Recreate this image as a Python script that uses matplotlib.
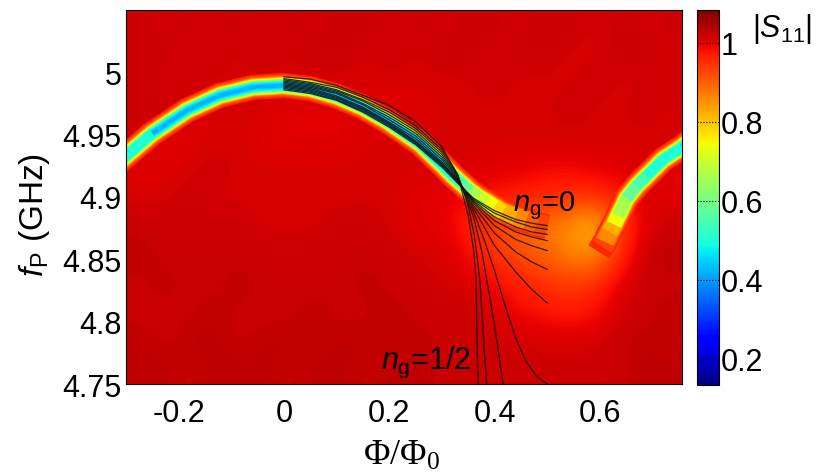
import numpy as np
import matplotlib
matplotlib.use("Agg")
import matplotlib.pyplot as plt
from matplotlib.colors import Normalize

plt.rcParams['font.family'] = ['Liberation Sans', 'DejaVu Sans']
plt.rcParams['mathtext.fontset'] = 'custom'
plt.rcParams['mathtext.rm'] = 'Liberation Sans'
plt.rcParams['mathtext.it'] = 'Liberation Sans:italic'
plt.rcParams['mathtext.cal'] = 'Liberation Serif'

# background |S11|, rows go from 4.75 up to 5.05 GHz, columns -0.3 to 0.756
background = [
    [1.03, 1.03, 1.02, 1.03, 1.03, 1.03, 1.02, 1.03, 1.03, 1.02, 1.03, 1.03, 1.02, 1.02, 1.02, 1.02, 1.02, 1.02, 1.02, 1.02, 1.03, 1.03],
    [1.03, 1.02, 1.03, 1.03, 1.02, 1.03, 1.03, 1.02, 1.03, 1.03, 1.02, 1.03, 1.02, 1.02, 1.02, 1.01, 1.01, 1.01, 1.01, 1.02, 1.03, 1.02],
    [1.02, 1.02, 1.02, 1.03, 1.02, 1.02, 1.02, 1.03, 1.02, 1.02, 1.03, 1.02, 1.02, 1.02, 1.01, 0.99, 0.98, 0.97, 0.98, 1.01, 1.02, 1.03],
    [1.02, 1.03, 1.02, 1.02, 1.03, 1.02, 1.02, 1.02, 1.02, 1.03, 1.02, 1.02, 1.01, 1.01, 0.99, 0.97, 0.95, 0.94, 0.95, 1.00, 1.02, 1.02],
    [1.03, 1.02, 1.02, 1.02, 1.02, 1.02, 1.02, 1.02, 1.02, 1.02, 1.02, 1.01, 1.01, 0.99, 0.95, 0.92, 0.90, 0.87, 0.85, 0.95, 1.02, 1.03],
    [1.02, 1.02, 1.02, 1.02, 1.02, 1.01, 1.01, 1.01, 1.02, 1.02, 1.01, 1.00, 1.00, 0.97, 0.93, 0.90, 0.88, 0.85, 0.80, 0.93, 1.00, 1.02],
    [1.01, 1.01, 1.02, 1.01, 1.01, 1.01, 1.01, 1.01, 1.01, 1.01, 1.01, 1.00, 1.00, 0.99, 0.98, 0.97, 0.96, 0.95, 0.95, 0.97, 1.01, 1.00],
    [1.00, 1.00, 1.01, 1.02, 1.01, 1.01, 1.01, 1.01, 1.01, 1.01, 1.01, 1.01, 1.01, 1.01, 1.00, 1.00, 0.99, 0.99, 1.00, 1.00, 1.01, 1.00],
    [1.01, 1.00, 1.00, 1.01, 1.01, 1.00, 1.00, 1.00, 1.00, 1.01, 1.01, 1.01, 1.01, 1.01, 1.01, 1.01, 1.01, 1.01, 1.01, 1.01, 1.01, 1.01],
    [1.02, 1.02, 1.01, 1.01, 1.01, 1.01, 1.00, 1.00, 1.00, 1.00, 1.00, 1.00, 1.01, 1.01, 1.01, 1.01, 1.01, 1.02, 1.01, 1.01, 1.02, 1.01],
    [1.02, 1.01, 1.02, 1.01, 1.01, 1.01, 1.01, 1.01, 1.01, 1.01, 1.01, 1.01, 1.01, 1.01, 1.02, 1.01, 1.01, 1.01, 1.02, 1.01, 1.01, 1.02],
    [1.02, 1.02, 1.01, 1.02, 1.01, 1.02, 1.01, 1.02, 1.02, 1.01, 1.02, 1.01, 1.02, 1.02, 1.01, 1.02, 1.02, 1.01, 1.01, 1.02, 1.02, 1.01],
    [1.02, 1.01, 1.02, 1.01, 1.02, 1.01, 1.02, 1.01, 1.02, 1.02, 1.01, 1.02, 1.01, 1.02, 1.02, 1.01, 1.02, 1.02, 1.01, 1.02, 1.01, 1.02],
]

# resonance dip: position and depth along the flux axis, runs a little past both axis ends
ridge_phi = [-0.33, -0.30, -0.25, -0.184, -0.122, -0.059, 0.0, 0.05, 0.1, 0.15, 0.196, 0.258, 0.30, 0.321, 0.337, 0.353, 0.369, 0.385, 0.40, 0.416, 0.44, 0.46, 0.48, 0.5, 0.54, 0.58, 0.598, 0.604, 0.61, 0.619, 0.627, 0.635, 0.651, 0.67, 0.689, 0.72, 0.756, 0.78]
ridge_f = [4.922, 4.933, 4.951, 4.9695, 4.9815, 4.988, 4.9895, 4.987, 4.981, 4.972, 4.961, 4.943, 4.926, 4.917, 4.911, 4.905, 4.900, 4.896, 4.892, 4.888, 4.884, 4.881, 4.878, 4.876, 4.871, 4.866, 4.856, 4.860, 4.864, 4.872, 4.878, 4.885, 4.899, 4.909, 4.917, 4.930, 4.94, 4.948]
ridge_depth = [0.52, 0.50, 0.41, 0.40, 0.40, 0.39, 0.38, 0.37, 0.37, 0.38, 0.39, 0.41, 0.44, 0.47, 0.52, 0.57, 0.63, 0.69, 0.73, 0.77, 0.81, 0.84, 0.88, 0.91, 0.97, 1.0, 0.95, 0.91, 0.86, 0.79, 0.71, 0.64, 0.56, 0.52, 0.49, 0.47, 0.45, 0.45]

# dip colour bands, outer to inner
band_level = [0.96, 0.93, 0.90, 0.86, 0.82, 0.78, 0.74, 0.70, 0.66, 0.62, 0.58, 0.54, 0.50, 0.46, 0.42]
band_width = [25, 22, 20, 18, 17, 16, 15, 14, 13, 12, 11, 10, 9, 7, 4]

# fitted curves, n_g = 0 ... 1/2
fit_phi = [0.0, 0.05, 0.1, 0.15, 0.2, 0.25, 0.3, 0.33, 0.36, 0.4, 0.44, 0.47, 0.5]
fit_0 = [4.986, 4.983, 4.9775, 4.968, 4.956, 4.942, 4.924, 4.911, 4.899, 4.889, 4.882, 4.879, 4.877]
fit_1 = [4.987, 4.984, 4.978, 4.969, 4.957, 4.943, 4.925, 4.912, 4.898, 4.887, 4.880, 4.876, 4.874]
fit_2 = [4.988, 4.985, 4.979, 4.970, 4.958, 4.944, 4.926, 4.912, 4.897, 4.884, 4.876, 4.872, 4.870]
fit_3 = [4.989, 4.986, 4.980, 4.971, 4.959, 4.945, 4.927, 4.913, 4.896, 4.881, 4.872, 4.868, 4.865]
fit_4 = [4.990, 4.987, 4.981, 4.972, 4.960, 4.947, 4.928, 4.913, 4.895, 4.877, 4.866, 4.861, 4.857]
fit_5 = [4.991, 4.988, 4.983, 4.974, 4.962, 4.949, 4.930, 4.914, 4.893, 4.871, 4.856, 4.848, 4.842]
fit_6 = [4.992, 4.989, 4.984, 4.975, 4.964, 4.951, 4.932, 4.915, 4.891, 4.861, 4.840, 4.826, 4.815]

steep_phi_7 = [0.0, 0.05, 0.1, 0.15, 0.2, 0.25, 0.3, 0.33, 0.36, 0.38, 0.4, 0.42, 0.44, 0.46, 0.48, 0.5]
steep_7 = [4.993, 4.990, 4.985, 4.977, 4.966, 4.953, 4.934, 4.916, 4.888, 4.866, 4.841, 4.813, 4.787, 4.768, 4.756, 4.750]
steep_phi_8 = [0.0, 0.05, 0.1, 0.15, 0.2, 0.25, 0.3, 0.33, 0.36, 0.375, 0.385, 0.396, 0.406, 0.416]
steep_8 = [4.994, 4.991, 4.986, 4.978, 4.968, 4.955, 4.936, 4.917, 4.884, 4.858, 4.834, 4.807, 4.780, 4.750]
steep_phi_9 = [0.0, 0.05, 0.1, 0.15, 0.2, 0.25, 0.3, 0.33, 0.35, 0.362, 0.372, 0.38, 0.385]
steep_9 = [4.995, 4.992, 4.988, 4.980, 4.970, 4.957, 4.938, 4.918, 4.893, 4.868, 4.834, 4.780, 4.750]
steep_phi_10 = [0.0, 0.05, 0.1, 0.15, 0.2, 0.25, 0.3, 0.33, 0.35, 0.36, 0.365, 0.367, 0.369]
steep_10 = [4.9965, 4.9945, 4.9895, 4.9815, 4.9735, 4.9605, 4.940, 4.918, 4.885, 4.858, 4.834, 4.780, 4.750]

xticks = [-0.2, 0, 0.2, 0.4, 0.6]
xtick_labels = ['-0.2', '0', '0.2', '0.4', '0.6']
yticks = [4.75, 4.8, 4.85, 4.9, 4.95, 5]
ytick_labels = ['4.75', '4.8', '4.85', '4.9', '4.95', '5']
cbar_ticks = [0.2, 0.4, 0.6, 0.8, 1]
cbar_labels = ['0.2', '0.4', '0.6', '0.8', '1']

W, H = 817, 477
fig = plt.figure(figsize=(W / 100, H / 100), dpi=100)
ax = fig.add_axes([126 / W, 1 - 385 / H, 556 / W, 374 / H])
cax = fig.add_axes([697 / W, 1 - 386 / H, 22 / W, 375 / H])

norm = Normalize(0.134, 1.083)
cmap = plt.get_cmap('jet')

im = ax.imshow(background, origin='lower', extent=[-0.30, 0.756, 4.75, 5.05], aspect='auto',
               cmap=cmap, norm=norm, interpolation='bicubic')

# dip drawn as nested bands, each band only where the dip reaches its level
depth = np.array(ridge_depth)
for level, width in zip(band_level, band_width):
    band_f = np.where(depth <= level, ridge_f, np.nan)
    ax.plot(ridge_phi, band_f, color=cmap(norm(level)), lw=width * 0.72,
            solid_capstyle='butt', solid_joinstyle='round')

for f in [fit_0, fit_1, fit_2, fit_3, fit_4, fit_5, fit_6]:
    ax.plot(fit_phi, f, color='#101010', lw=0.9, alpha=0.85)
ax.plot(steep_phi_7, steep_7, color='#101010', lw=0.9, alpha=0.85)
ax.plot(steep_phi_8, steep_8, color='#101010', lw=0.9, alpha=0.85)
ax.plot(steep_phi_9, steep_9, color='#101010', lw=0.9, alpha=0.85)
ax.plot(steep_phi_10, steep_10, color='#101010', lw=0.9, alpha=0.85)

ax.set_xlim(-0.30, 0.756)
ax.set_ylim(4.75, 5.05)
ax.set_xticks(xticks)
ax.set_xticklabels(xtick_labels)
ax.set_yticks(yticks)
ax.set_yticklabels(ytick_labels)
ax.tick_params(axis='x', length=0, labelsize=22, pad=10)
ax.tick_params(axis='y', length=0, labelsize=22, pad=3)

ax.text(0.435, 4.894, r'$\mathit{n}_{\mathrm{g}}$=0', fontsize=21, va='center', ha='left')
ax.text(0.185, 4.768, r'$\mathit{n}_{\mathrm{g}}$=1/2', fontsize=22, va='center', ha='left')

fig.text(35 / W, 1 - 215 / H, r'$\mathit{f}_{\mathrm{P}}$ (GHz)', fontsize=24, rotation=90, va='center', ha='center')
fig.text(401 / W, 1 - 455 / H, r'$\mathcal{Φ/Φ_0}$', fontsize=26, va='center', ha='center')

# colour bar with dotted ticks inside
cb = fig.colorbar(im, cax=cax)
cb.set_ticks(cbar_ticks)
cb.set_ticklabels(cbar_labels)
cax.tick_params(direction='in', length=0, labelsize=22, pad=1)
for t in cbar_ticks:
    cax.plot([0, 1], [t, t], color='black', lw=0.8, ls=':', transform=cax.get_yaxis_transform())
fig.text(782 / W, 1 - 29 / H, r'$|\mathit{S}_{11}|$', fontsize=22, va='center', ha='center')

fig.savefig('out.png', dpi=100)
